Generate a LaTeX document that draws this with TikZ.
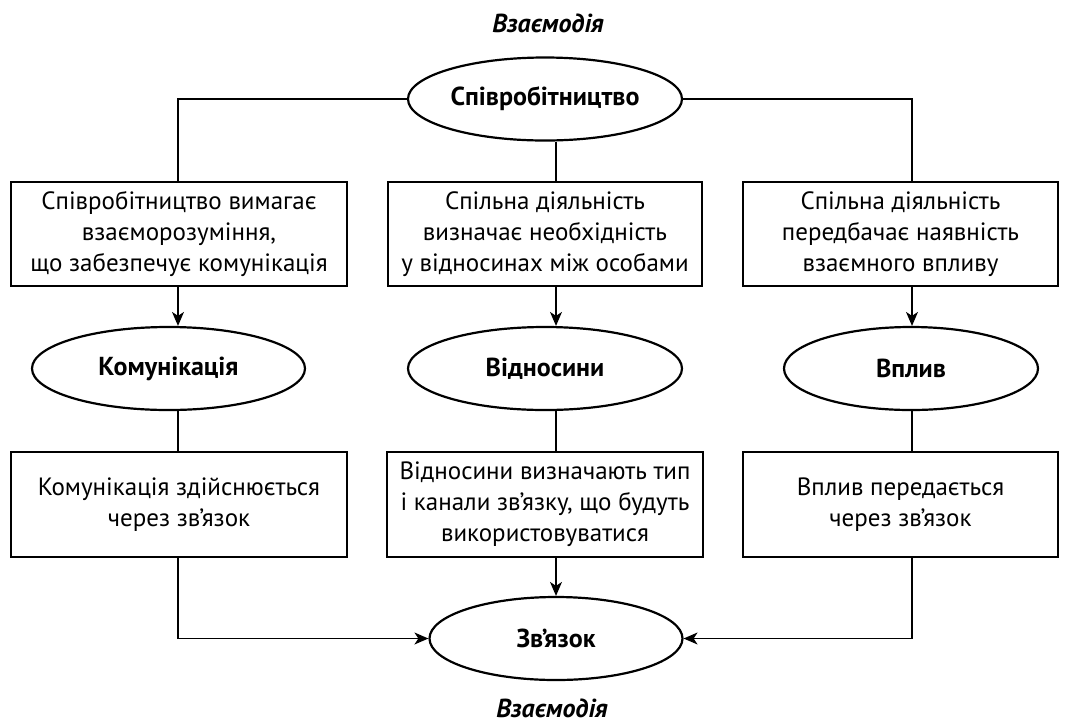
\documentclass[tikz,border=0pt]{standalone}
\usepackage{fontspec}
\setmainfont{PT Sans}
\usetikzlibrary{shapes.geometric,arrows.meta,calc}
\tikzset{
  boxnode/.style={draw, line width=2.2pt, rectangle, inner sep=0pt, align=center,
    font=\fontsize{25}{31}\selectfont},
  ellnode/.style={draw, line width=2.2pt, ellipse, inner sep=0pt,
    font=\fontsize{26}{30}\selectfont\bfseries},
  titlenode/.style={font=\fontsize{26}{30}\selectfont\bfseries\itshape},
  conn/.style={line width=1.2pt},
  arr/.style={line width=1.2pt, -{Stealth[length=14pt,width=12pt,inset=4pt]}}
}
\begin{document}
\begin{tikzpicture}[x=1pt,y=1pt]
\useasboundingbox (0,0) rectangle (1069,-724);
\coordinate (c1) at (178,0);
\coordinate (c2) at (556,0);
\coordinate (c3) at (912,0);
\node[titlenode] (t1) at (548,-23) {Взаємодія};
\node[titlenode] (t2) at (552,-708) {Взаємодія};
\node[ellnode, minimum width=274pt, minimum height=83pt] (e1) at (545,-99) {Співробітництво};
\node[boxnode, minimum width=336pt, minimum height=104pt] (b1) at (179,-234) {Співробітництво вимагає\\взаєморозуміння,\\що забезпечує комунікація};
\node[boxnode, minimum width=314pt, minimum height=104pt] (b2) at (545,-234) {Спільна діяльність\\визначає необхідність\\у відносинах між особами};
\node[boxnode, minimum width=315pt, minimum height=104pt] (b3) at (900.5,-234) {Спільна діяльність\\передбачає наявність\\взаємного впливу};
\node[ellnode, minimum width=273pt, minimum height=83pt] (e2) at (168.5,-368.5) {Комунікація};
\node[ellnode, minimum width=274pt, minimum height=83pt] (e3) at (545,-368.5) {Відносини};
\node[ellnode, minimum width=254pt, minimum height=83pt] (e4) at (911,-368.5) {Вплив};
\node[boxnode, minimum width=336pt, minimum height=105pt] (b4) at (179,-504.5) {Комунікація здійснюється\\через зв’язок};
\node[boxnode, minimum width=316pt, minimum height=105pt] (b5) at (545,-504.5) {Відносини визначають тип\\і канали зв’язку, що будуть\\використовуватися};
\node[boxnode, minimum width=315pt, minimum height=105pt] (b6) at (900.5,-504.5) {Вплив передається\\через зв’язок};
\node[ellnode, minimum width=253pt, minimum height=83pt] (e5) at (556,-638.5) {Зв’язок};
% connectors
\draw[conn] (e1.west) -| (b1.north -| c1);
\draw[conn] (e1.east) -| (b3.north -| c3);
\draw[conn] (e1.south -| c2) -- (b2.north -| c2);
\draw[arr] (b1.south -| c1) -- (e2.north -| c1);
\draw[arr] (b2.south -| c2) -- (e3.north -| c2);
\draw[arr] (b3.south -| c3) -- (e4.north -| c3);
\draw[conn] (e2.south -| c1) -- (b4.north -| c1);
\draw[conn] (e3.south -| c2) -- (b5.north -| c2);
\draw[conn] (e4.south -| c3) -- (b6.north -| c3);
\draw[arr] (b5.south -| c2) -- (e5.north);
\draw[arr] (b4.south -| c1) |- (e5.west);
\draw[arr] (b6.south -| c3) |- (e5.east);
\end{tikzpicture}
\end{document}
